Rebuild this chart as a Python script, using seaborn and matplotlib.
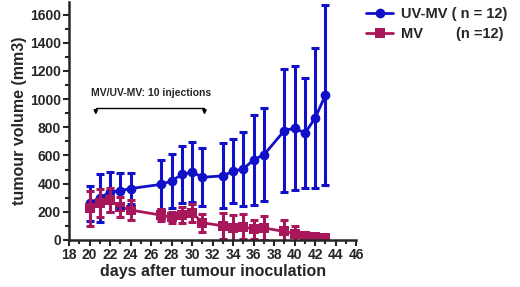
import numpy as np
import pandas as pd
import matplotlib
matplotlib.use("Agg")
import matplotlib.pyplot as plt
import seaborn as sns
from matplotlib.ticker import MultipleLocator

days = [20, 21, 22, 23, 24, 27, 28, 29, 30, 31, 33, 34, 35, 36, 37, 39, 40, 41, 42, 43]

uvmv_mean = [260, 300, 340, 350, 365, 395, 420, 465, 482, 445, 455, 489, 505, 570, 605, 777, 795, 758, 866, 1030]
uvmv_err = [125, 170, 140, 125, 110, 175, 190, 205, 215, 205, 230, 230, 265, 320, 330, 440, 440, 390, 500, 640]

mv_mean = [225, 260, 282, 235, 212, 176, 160, 176, 193, 122, 100, 85, 95, 75, 85, 60, 45, 28, 22, 15]
mv_err = [125, 100, 85, 70, 70, 45, 40, 55, 65, 65, 90, 95, 90, 65, 85, 85, 55, 30, 15, 12]

blue = "#1010c8"
red = "#a8175a"

sns.set_style("ticks")
plt.rcParams["font.family"] = ["Liberation Sans", "DejaVu Sans"]
plt.rcParams["font.weight"] = "bold"

df = pd.DataFrame({
    "day": days * 2,
    "volume": uvmv_mean + mv_mean,
    "group": ["UV-MV ( n = 12)"] * len(days) + ["MV        (n =12)"] * len(days),
})

fig = plt.figure(figsize=(5.2, 2.87), dpi=100)
ax = fig.add_axes([0.133, 0.164, 0.552, 0.829])

sns.lineplot(data=df, x="day", y="volume", hue="group", style="group",
             palette=[blue, red], markers=["o", "s"], dashes=False,
             markersize=7, linewidth=2, markeredgewidth=0, ax=ax)

ax.errorbar(days, uvmv_mean, yerr=uvmv_err, fmt="none", ecolor=blue,
            elinewidth=2.2, capsize=3, capthick=2.2)
ax.errorbar(days, mv_mean, yerr=mv_err, fmt="none", ecolor=red,
            elinewidth=2.2, capsize=3, capthick=2.2)

ax.set_xlim(18, 46)
ax.set_ylim(0, 1690)
ax.xaxis.set_major_locator(MultipleLocator(2))
ax.xaxis.set_minor_locator(MultipleLocator(1))
ax.yaxis.set_major_locator(MultipleLocator(200))
ax.yaxis.set_minor_locator(MultipleLocator(100))
ax.tick_params(axis="both", which="major", length=4, width=1.5, labelsize=10, pad=2)
ax.tick_params(axis="both", which="minor", length=3, width=1.5)
for lab in ax.get_xticklabels() + ax.get_yticklabels():
    lab.set_fontweight("bold")
for s in ["left", "bottom"]:
    ax.spines[s].set_linewidth(1.8)
sns.despine(ax=ax)

ax.set_xlabel("days after tumour inoculation", fontsize=11.5, fontweight="bold", labelpad=1)
ax.set_ylabel("tumour volume (mm3)", fontsize=11.5, fontweight="bold", labelpad=2)

# injection bracket
ax.plot([20.6, 31.2], [940, 940], color="black", lw=1)
for xb in [20.6, 31.2]:
    ax.annotate("", xy=(xb, 870), xytext=(xb, 945),
                arrowprops=dict(arrowstyle="-|>", color="black", lw=1, mutation_scale=6))
ax.text(26, 1045, "MV/UV-MV: 10 injections", fontsize=7.5, fontweight="bold",
        ha="center", va="center")

ax.legend(loc="upper left", bbox_to_anchor=(1.0, 1.02), frameon=False,
          handlelength=1.8, borderaxespad=0.3, labelspacing=0.4, handletextpad=0.6,
          prop={"weight": "bold", "size": 10.5})

fig.savefig("out.png", dpi=100)
